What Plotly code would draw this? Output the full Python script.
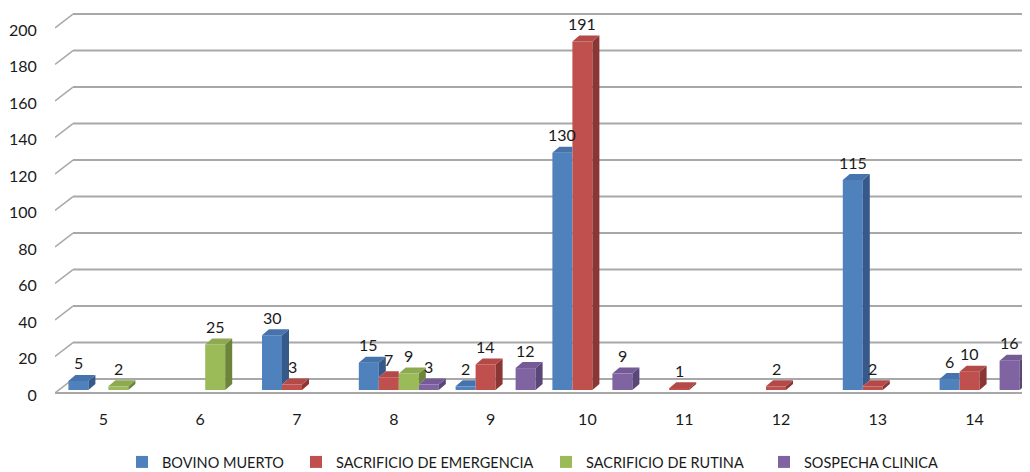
import plotly.graph_objects as go

# ---------------- data ----------------
categories = ["5", "6", "7", "8", "9", "10", "11", "12", "13", "14"]
series_names = ["BOVINO MUERTO", "SACRIFICIO DE EMERGENCIA",
                "SACRIFICIO DE RUTINA", "SOSPECHA CLINICA"]
bovino_muerto = [5, None, 30, 15, 2, 130, None, None, 115, 6]
sacrificio_emergencia = [None, None, 3, 7, 14, 191, 1, 2, 2, 10]
sacrificio_rutina = [2, 25, None, 9, None, None, None, None, None, None]
sospecha_clinica = [None, None, None, 3, 12, 9, None, None, None, 16]
y_ticks = [0, 20, 40, 60, 80, 100, 120, 140, 160, 180, 200]

series_values = [bovino_muerto, sacrificio_emergencia, sacrificio_rutina, sospecha_clinica]

# ---------------- styling ----------------
front_colors = ["#4F81BD", "#C0504D", "#9BBB59", "#8064A2"]
top_colors = ["#4673AB", "#B34A47", "#8DAA50", "#755B96"]
side_colors = ["#36598A", "#8A3634", "#6C853B", "#5A4677"]
legend_entry_widths = [129, 205, 173, 140]
FONT = "Lato"
TXT = "#1a1a1a"

# the page body adds an 8px margin, so the figure is sized to fit the window
W, H = 1022, 464
ML, MR, MT, MB = 47, 0, 2, 72
plot_w = W - ML - MR
plot_h = H - MT - MB
CAT_PX = 96.8          # pixels per category
PX_PER_UNIT = 1.825    # pixels per value unit
ZERO_PX = 382          # figure pixel row of value 0 (from top)

x_min = -0.5
x_max = x_min + plot_w / CAT_PX
y_min = -(MT + plot_h - ZERO_PX) / PX_PER_UNIT
y_max = (ZERO_PX - MT) / PX_PER_UNIT

bar_w = 20 / CAT_PX
first_off = -35 / CAT_PX
ddx = 7 / CAT_PX
ddy = 6 / PX_PER_UNIT
wall_dx = 18 / CAT_PX
wall_back = 6.0
wall_front = -1.6

idx = list(range(len(categories)))
fig = go.Figure()

# front faces
for s, (name, vals) in enumerate(zip(series_names, series_values)):
    fig.add_trace(go.Bar(
        x=idx, y=vals, name=name, width=bar_w, offset=first_off + s * bar_w,
        marker=dict(color=front_colors[s], line=dict(width=0)),
        legendwidth=legend_entry_widths[s],
        hoverinfo="skip", showlegend=True))

# 3D side / top faces
for s, vals in enumerate(series_values):
    nxt = series_values[s + 1] if s + 1 < len(series_values) else [None] * len(idx)
    tx, ty, sx, sy = [], [], [], []
    for i, v in zip(idx, vals):
        if v is None:
            continue
        xl = i + first_off + s * bar_w
        xr = xl + bar_w
        nv = nxt[i] if nxt[i] is not None else 0
        right_top = xr if nv > v else xr + ddx
        tx += [xl, xl + ddx, right_top, xr, xl, None]
        ty += [v, v + ddy, v + ddy, v, v, None]
        b = nv
        if b < v:
            sx += [xr, xr, xr + ddx, xr + ddx, xr, None]
            sy += [b, v, v + ddy, b + ddy, b, None]
    fig.add_trace(go.Scatter(x=sx, y=sy, mode="lines", fill="toself",
                             fillcolor=side_colors[s], line=dict(width=0),
                             hoverinfo="skip", showlegend=False))
    fig.add_trace(go.Scatter(x=tx, y=ty, mode="lines", fill="toself",
                             fillcolor=top_colors[s], line=dict(width=0),
                             hoverinfo="skip", showlegend=False))

# data labels
for s, vals in enumerate(series_values):
    for i, v in zip(idx, vals):
        if v is None:
            continue
        fig.add_annotation(x=i + first_off + s * bar_w + bar_w / 2, y=v,
                           text=str(v), showarrow=False, yshift=18,
                           font=dict(family=FONT, size=16, color=TXT))

# back wall gridlines + left stubs
grid_col = "#a8a8a8"
for t in y_ticks:
    fig.add_shape(type="line", xref="x", yref="y", layer="below",
                  x0=x_min + wall_dx, y0=t + wall_back, x1=x_max + 1, y1=t + wall_back,
                  line=dict(color=grid_col, width=2))
    fig.add_shape(type="line", xref="x", yref="y", layer="below",
                  x0=x_min, y0=t + wall_front, x1=x_min + wall_dx, y1=t + wall_back,
                  line=dict(color=grid_col, width=1.5))
# floor front edge and right edge
fig.add_shape(type="line", xref="x", yref="y", layer="below",
              x0=x_min, y0=wall_front, x1=len(categories) - 0.5, y1=wall_front,
              line=dict(color=grid_col, width=2))
fig.add_shape(type="line", xref="x", yref="y", layer="below",
              x0=len(categories) - 0.5, y0=wall_front,
              x1=len(categories) - 0.5 + wall_dx, y1=wall_back,
              line=dict(color=grid_col, width=1.5))

fig.update_layout(
    width=W, height=H,
    margin=dict(l=ML, r=MR, t=MT, b=MB, autoexpand=False),
    paper_bgcolor="white", plot_bgcolor="white",
    barmode="overlay",
    font=dict(family=FONT, size=16, color=TXT),
    showlegend=True,
    legend=dict(orientation="h", xref="container", x=114 / W, xanchor="left",
                y=((H - MB) - 454) / plot_h, yanchor="middle",
                font=dict(family=FONT, size=14.5, color=TXT),
                itemwidth=30, entrywidthmode="pixels"),
    xaxis=dict(range=[x_min, x_max], tickmode="array", tickvals=idx, ticktext=categories,
               showgrid=False, zeroline=False, showline=False,
               ticks="outside", ticklen=5, tickcolor="rgba(0,0,0,0)",
               tickfont=dict(family=FONT, size=16, color=TXT), fixedrange=True),
    yaxis=dict(range=[y_min, y_max], tickmode="array", tickvals=y_ticks,
               showgrid=False, zeroline=False, showline=False,
               ticks="outside", ticklen=14, tickcolor="rgba(0,0,0,0)",
               ticklabelshift=5,
               tickfont=dict(family=FONT, size=16, color=TXT), fixedrange=True),
)

fig.write_html("out.html")
